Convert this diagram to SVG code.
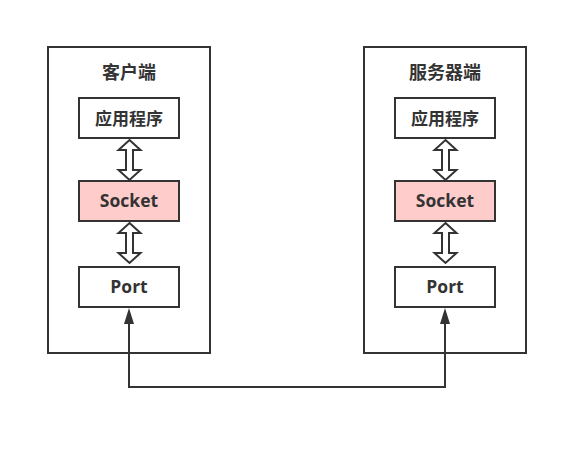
<svg xmlns="http://www.w3.org/2000/svg" width="588" height="449" viewBox="0 0 588 449">
<defs>
<style>
.box{fill:#ffffff;stroke:#333333;stroke-width:2}
.sock{fill:#ffcccc;stroke:#333333;stroke-width:2}
.t{font-family:"Open Sans","Noto Sans CJK SC",sans-serif;font-weight:bold;fill:#333333;text-anchor:middle;dominant-baseline:central}
.dbl{fill:#ffffff;stroke:#333333;stroke-width:2;stroke-linejoin:miter}
.line{fill:none;stroke:#333333;stroke-width:2}
</style>
</defs>
<rect width="588" height="449" fill="#ffffff"/>
<g id="client">
<rect class="box" x="48" y="47" width="162" height="306"/>
<text class="t" x="129" y="72" font-size="18">客户端</text>
</g>
<g id="server">
<rect class="box" x="364" y="47" width="162" height="306"/>
<text class="t" x="445" y="72" font-size="18">服务器端</text>
</g>
<g id="client-app">
<rect class="box" x="79" y="98" width="100" height="40"/>
<text class="t" x="129" y="118" font-size="17">应用程序</text>
</g>
<g id="client-socket">
<rect class="sock" x="79" y="181" width="100" height="40"/>
<text class="t" x="129" y="200" font-size="17.5">Socket</text>
</g>
<g id="client-port">
<rect class="box" x="79" y="267" width="100" height="40"/>
<text class="t" x="129" y="286" font-size="17.5">Port</text>
</g>
<g id="server-app">
<rect class="box" x="395" y="98" width="100" height="40"/>
<text class="t" x="445" y="118" font-size="17">应用程序</text>
</g>
<g id="server-socket">
<rect class="sock" x="395" y="181" width="100" height="40"/>
<text class="t" x="445" y="200" font-size="17.5">Socket</text>
</g>
<g id="server-port">
<rect class="box" x="395" y="267" width="100" height="40"/>
<text class="t" x="445" y="286" font-size="17.5">Port</text>
</g>
<g id="connectors">
<path class="dbl" d="M129.5,140 L140.5,150 L133,150 L133,170 L140.5,170 L129.5,180 L118.5,170 L126,170 L126,150 L118.5,150 Z"/>
<path class="dbl" d="M129.5,223 L140.5,233 L133,233 L133,253 L140.5,253 L129.5,263 L118.5,253 L126,253 L126,233 L118.5,233 Z"/>
<path class="dbl" d="M445.5,140 L456.5,150 L449,150 L449,170 L456.5,170 L445.5,180 L434.5,170 L442,170 L442,150 L434.5,150 Z"/>
<path class="dbl" d="M445.5,223 L456.5,233 L449,233 L449,253 L456.5,253 L445.5,263 L434.5,253 L442,253 L442,233 L434.5,233 Z"/>
<path class="line" d="M129,324 L129,387 L445,387 L445,324"/>
<path d="M129,308 L134,324 L124,324 Z" fill="#333333"/>
<path d="M445,308 L450,324 L440,324 Z" fill="#333333"/>
</g>
</svg>
